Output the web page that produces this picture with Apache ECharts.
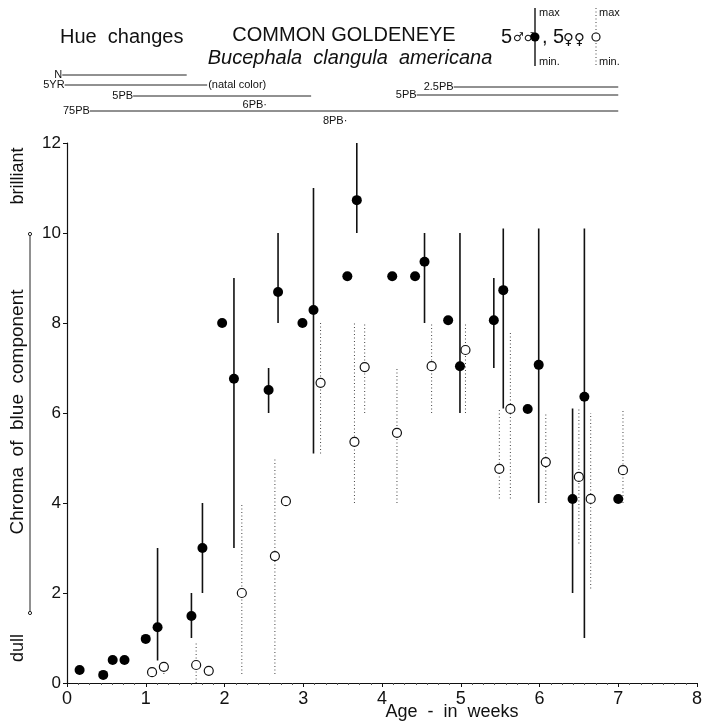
<!DOCTYPE html>
<html>
<head>
<meta charset="utf-8">
<script src="https://cdn.jsdelivr.net/npm/echarts@6/dist/echarts.min.js"></script>
<style>
  html, body { margin: 0; padding: 0; background: #fff; }
  #chart { width: 708px; height: 724px; }
</style>
</head>
<body>
<div id="chart"></div>
<script>
// males (filled dots, solid range bars) -- age in weeks / chroma
var maleAge    = [0.16, 0.46, 0.58, 0.73, 1.00, 1.15, 1.58, 1.72, 1.97, 2.12, 2.56, 2.68, 2.99, 3.13,
                  3.56, 3.68, 4.13, 4.42, 4.54, 4.84, 4.99, 5.42, 5.54, 5.85, 5.99, 6.42, 6.57, 7.00];
var maleChroma = [0.29, 0.18, 0.51, 0.51, 0.98, 1.24, 1.49, 3.00, 8.00, 6.76, 6.51, 8.69, 8.00, 8.29,
                  9.04, 10.73, 9.04, 9.04, 9.36, 8.06, 7.04, 8.06, 8.73, 6.09, 7.07, 4.09, 6.36, 4.09];
var maleMin    = [null, null, null, null, null, 0.5, 1.0, 2.0, null, 3.0, 6.0, 8.0, null, 5.1,
                  null, 10.0, null, null, 8.0, null, 6.0, 7.0, 6.1, null, 4.0, 2.0, 1.0, null];
var maleMax    = [null, null, null, null, null, 3.0, 2.0, 4.0, null, 9.0, 7.0, 10.0, null, 11.0,
                  null, 12.0, null, null, 10.0, null, 10.0, 9.0, 10.1, null, 10.1, 6.1, 10.1, null];

// females (open dots, dotted range bars)
var femaleAge    = [1.08, 1.23, 1.64, 1.80, 2.22, 2.64, 2.78, 3.22, 3.65, 3.78, 4.19, 4.63, 5.06,
                    5.49, 5.63, 6.08, 6.50, 6.65, 7.06];
var femaleChroma = [0.24, 0.36, 0.40, 0.27, 2.00, 2.82, 4.04, 6.67, 5.36, 7.02, 5.56, 7.04, 7.40,
                    4.76, 6.09, 4.91, 4.58, 4.09, 4.73];
var femaleMin    = [null, 0.2, 0.0, null, 0.2, 0.2, null, 5.1, 4.0, 6.0, 4.0, 6.0, 6.0,
                    4.1, 4.1, 4.0, 3.1, 2.1, 4.0];
var femaleMax    = [null, 0.5, 0.9, null, 4.0, 5.0, null, 8.0, 8.0, 8.0, 7.0, 8.0, 8.0,
                    6.1, 7.8, 6.0, 6.1, 6.0, 6.1];

// hue changes strip above the plot
var hueName  = ['N', '5YR', '5PB', '75PB', '2.5PB', '5PB'];
var hueStart = [-0.06, -0.03, 0.84, 0.29, 4.91, 4.44];
var hueEnd   = [1.52, 1.78, 3.10, 7.00, 7.00, 7.00];
var hueRow   = [5, 15, 26, 41, 17, 25];
var hueTail  = ['', '(natal color)', '', '', '', ''];
var hueMarkName = ['6PB', '8PB'];
var hueMarkAge  = [2.54, 3.56];
var hueMarkRow  = [35, 51];

var xTicks = [0, 1, 2, 3, 4, 5, 6, 7, 8];
var yTicks = [0, 2, 4, 6, 8, 10, 12];

var FONT = '"Liberation Sans", Arial, sans-serif';

function pairs(xs, ys) {
    return xs.map(function (x, i) { return [x, ys[i]]; });
}
function ranges(xs, lo, hi) {
    var out = [];
    xs.forEach(function (x, i) {
        if (lo[i] !== null) out.push([x, lo[i], hi[i]]);
    });
    return out;
}
function barRenderer(dashed) {
    return function (params, api) {
        var a = api.coord([api.value(0), api.value(1)]);
        var b = api.coord([api.value(0), api.value(2)]);
        return {
            type: 'line',
            shape: {x1: a[0], y1: a[1], x2: b[0], y2: b[1]},
            style: dashed
                ? {stroke: '#444', lineWidth: 1, lineDash: [1, 2.5]}
                : {stroke: '#111', lineWidth: 1.6}
        };
    };
}

var hueData = hueName.map(function (n, i) { return [hueStart[i], hueEnd[i], hueRow[i], i]; });
var hueMarks = hueMarkName.map(function (n, i) { return [hueMarkAge[i], hueMarkRow[i], i]; });

var chart = echarts.init(document.getElementById('chart'));
var option = {
    animation: false,
    grid: [
        {left: 67, right: 11, top: 143, bottom: 41},
        {left: 67, right: 11, top: 70, height: 55}
    ],
    xAxis: [{
        type: 'value', min: 0, max: 8, interval: 1,
        axisLine: {show: true, lineStyle: {color: '#111', width: 1.2}},
        axisTick: {show: true, length: 4, lineStyle: {color: '#111'}},
        minorTick: {show: true, splitNumber: 7, length: 2, lineStyle: {color: '#555'}},
        splitLine: {show: false},
        axisLabel: {
            color: '#111', fontSize: 18, fontFamily: FONT, margin: 7,
            formatter: function (v) { return xTicks.indexOf(v) >= 0 ? String(v) : ''; }
        }
    }, {
        type: 'value', gridIndex: 1, min: 0, max: 8, show: false
    }],
    yAxis: [{
        type: 'value', min: 0, max: 12, interval: 2,
        axisLine: {show: true, lineStyle: {color: '#111', width: 1.2}},
        axisTick: {show: true, length: 4, lineStyle: {color: '#111'}},
        splitLine: {show: false},
        axisLabel: {
            color: '#111', fontSize: 17, fontFamily: FONT, margin: 6,
            formatter: function (v) { return yTicks.indexOf(v) >= 0 ? String(v) : ''; }
        }
    }, {
        type: 'value', gridIndex: 1, min: 0, max: 55, inverse: true, show: false
    }],
    series: [{
        type: 'custom', name: 'male range',
        renderItem: barRenderer(false),
        data: ranges(maleAge, maleMin, maleMax), z: 2
    }, {
        type: 'custom', name: 'female range',
        renderItem: barRenderer(true),
        data: ranges(femaleAge, femaleMin, femaleMax), z: 2
    }, {
        type: 'scatter', name: '5 males',
        symbol: 'circle', symbolSize: 10,
        itemStyle: {color: '#000', opacity: 1},
        data: pairs(maleAge, maleChroma), z: 3
    }, {
        type: 'scatter', name: '5 females',
        symbol: 'circle', symbolSize: 9,
        itemStyle: {color: '#fff', borderColor: '#111', borderWidth: 1.2, opacity: 1},
        data: pairs(femaleAge, femaleChroma), z: 4
    }, {
        type: 'custom', name: 'hue',
        xAxisIndex: 1, yAxisIndex: 1,
        renderItem: function (params, api) {
            var i = api.value(3);
            var a = api.coord([api.value(0), api.value(2)]);
            var b = api.coord([api.value(1), api.value(2)]);
            var kids = [{
                type: 'line',
                shape: {x1: a[0], y1: a[1], x2: b[0], y2: b[1]},
                style: {stroke: '#222', lineWidth: 1}
            }, {
                type: 'text',
                style: {text: hueName[i], x: a[0], y: a[1], textAlign: 'right',
                        textVerticalAlign: 'middle', font: '11px ' + FONT, fill: '#111'}
            }];
            if (hueTail[i]) {
                kids.push({
                    type: 'text',
                    style: {text: hueTail[i], x: b[0] + 1, y: b[1], textAlign: 'left',
                            textVerticalAlign: 'middle', font: '11px ' + FONT, fill: '#111'}
                });
            }
            return {type: 'group', children: kids};
        },
        data: hueData
    }, {
        type: 'custom', name: 'hue marks',
        xAxisIndex: 1, yAxisIndex: 1,
        renderItem: function (params, api) {
            var p = api.coord([api.value(0), api.value(1)]);
            return {
                type: 'text',
                style: {text: hueMarkName[api.value(2)] + '·', x: p[0], y: p[1], textAlign: 'right',
                        textVerticalAlign: 'middle', font: '11px ' + FONT, fill: '#111'}
            };
        },
        data: hueMarks
    }],
    graphic: [
        {type: 'text', x: 60, y: 37, style: {text: 'Hue  changes', font: '20px ' + FONT, fill: '#111', textVerticalAlign: 'middle'}},
        {type: 'text', x: 344, y: 35, style: {text: 'COMMON GOLDENEYE', font: '20px ' + FONT, fill: '#111', textAlign: 'center', textVerticalAlign: 'middle'}},
        {type: 'text', x: 350, y: 58, style: {text: 'Bucephala  clangula  americana', font: 'italic 20px ' + FONT, fill: '#111', textAlign: 'center', textVerticalAlign: 'middle'}},
        // legend glyphs
        {type: 'text', x: 501, y: 37, style: {text: '5', font: '20px ' + FONT, fill: '#111', textVerticalAlign: 'middle'}},
        {type: 'text', x: 513, y: 38, style: {text: '♂♂', font: '12px "DejaVu Sans"', fill: '#111', textVerticalAlign: 'middle'}},
        {type: 'line', shape: {x1: 535, y1: 8, x2: 535, y2: 66}, style: {stroke: '#111', lineWidth: 1.4}},
        {type: 'circle', shape: {cx: 535, cy: 37, r: 4.5}, style: {fill: '#000'}},
        {type: 'text', x: 539, y: 13, style: {text: 'max', font: '11px ' + FONT, fill: '#111', textVerticalAlign: 'middle'}},
        {type: 'text', x: 539, y: 62, style: {text: 'min.', font: '11px ' + FONT, fill: '#111', textVerticalAlign: 'middle'}},
        {type: 'text', x: 542, y: 37, style: {text: ', 5', font: '20px ' + FONT, fill: '#111', textVerticalAlign: 'middle'}},
        {type: 'text', x: 563, y: 40, style: {text: '♀♀', font: '15px "DejaVu Sans"', fill: '#111', textVerticalAlign: 'middle'}},
        {type: 'line', shape: {x1: 596, y1: 8, x2: 596, y2: 66}, style: {stroke: '#444', lineWidth: 1, lineDash: [1, 2.5]}},
        {type: 'circle', shape: {cx: 596, cy: 37, r: 4}, style: {fill: '#fff', stroke: '#111', lineWidth: 1.2}},
        {type: 'text', x: 599, y: 13, style: {text: 'max', font: '11px ' + FONT, fill: '#111', textVerticalAlign: 'middle'}},
        {type: 'text', x: 599, y: 62, style: {text: 'min.', font: '11px ' + FONT, fill: '#111', textVerticalAlign: 'middle'}},
        // y axis title with dull..brilliant scale
        {type: 'text', x: 18, y: 412, rotation: Math.PI / 2, style: {text: 'Chroma  of  blue  component', font: '19px ' + FONT, fill: '#111', textAlign: 'center', textVerticalAlign: 'middle'}},
        {type: 'text', x: 18, y: 176, rotation: Math.PI / 2, style: {text: 'brilliant', font: '18px ' + FONT, fill: '#111', textAlign: 'center', textVerticalAlign: 'middle'}},
        {type: 'text', x: 18, y: 648, rotation: Math.PI / 2, style: {text: 'dull', font: '18px ' + FONT, fill: '#111', textAlign: 'center', textVerticalAlign: 'middle'}},
        {type: 'line', shape: {x1: 30, y1: 235, x2: 30, y2: 612}, style: {stroke: '#222', lineWidth: 1}},
        {type: 'circle', shape: {cx: 30, cy: 234, r: 1.6}, style: {fill: '#fff', stroke: '#222', lineWidth: 1}},
        {type: 'circle', shape: {cx: 30, cy: 613, r: 1.6}, style: {fill: '#fff', stroke: '#222', lineWidth: 1}},
        // x axis title
        {type: 'text', x: 452, y: 712, style: {text: 'Age  -  in  weeks', font: '18px ' + FONT, fill: '#111', textAlign: 'center', textVerticalAlign: 'middle'}}
    ]
};
chart.setOption(option);
</script>
</body>
</html>
